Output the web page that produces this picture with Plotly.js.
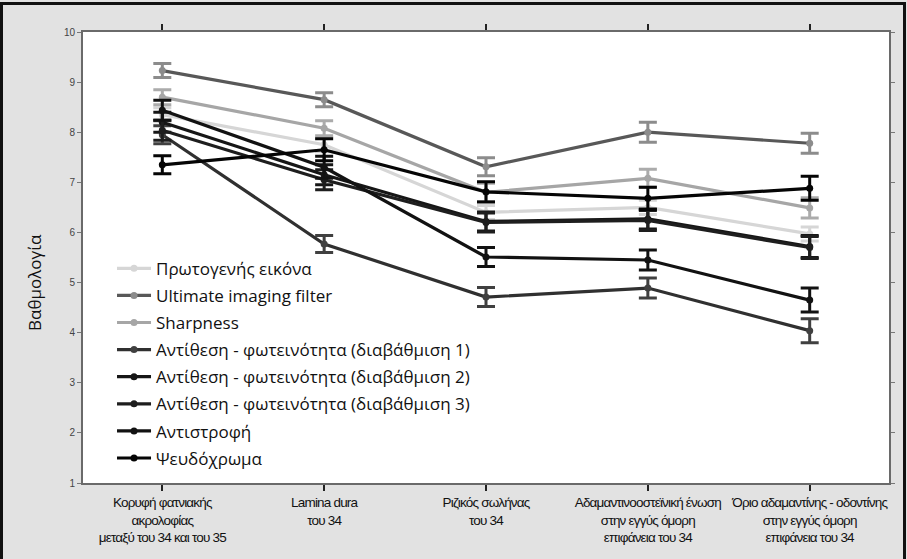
<!DOCTYPE html>
<html>
<head>
<meta charset="utf-8">
<script src="https://cdn.plot.ly/plotly-3.0.1.min.js"></script>
<style>
  html, body { margin: 0; padding: 0; background: #e2e2e2; }
  #wrap { position: relative; width: 907px; height: 559px; }
  #chart { width: 907px; height: 559px; }
  #frame {
    position: absolute; left: 0; top: 2px; width: 906px; height: 560px;
    box-sizing: border-box; border: 3px solid #111; border-bottom: none;
    pointer-events: none;
  }
  /* tighter tracking for the site labels under the x axis */
  #chart .xtick text { letter-spacing: -0.8px; }
</style>
</head>
<body>
<div id="wrap">
  <div id="chart"></div>
  <div id="frame"></div>
</div>
<script>
// Evaluation sites (x axis)
const categories = [
  "Κορυφή φατνιακής<br>ακρολοφίας<br>μεταξύ του 34 και του 35",
  "Lamina dura<br>του 34",
  "Ριζικός σωλήνας<br>του 34",
  "Αδαμαντινοοστεϊνική ένωση<br>στην εγγύς όμορη<br>επιφάνεια του 34",
  "Όριο αδαμαντίνης - οδοντίνης<br>στην εγγύς όμορη<br>επιφάνεια του 34"
];

// Series names (legend order)
const seriesNames = [
  "Πρωτογενής εικόνα",
  "Ultimate imaging filter",
  "Sharpness",
  "Αντίθεση - φωτεινότητα (διαβάθμιση 1)",
  "Αντίθεση - φωτεινότητα (διαβάθμιση 2)",
  "Αντίθεση - φωτεινότητα (διαβάθμιση 3)",
  "Αντιστροφή",
  "Ψευδόχρωμα"
];

// Mean scores per site
const primaryImage  = [8.35, 7.75, 6.40, 6.50, 5.97];
const ultimateFilt  = [9.23, 8.65, 7.31, 8.00, 7.78];
const sharpness     = [8.70, 8.08, 6.80, 7.08, 6.49];
const contrast1     = [7.95, 5.77, 4.71, 4.89, 4.04];
const contrast2     = [8.20, 7.15, 6.22, 6.27, 5.72];
const contrast3     = [8.04, 7.05, 6.20, 6.24, 5.70];
const inversion     = [8.44, 7.30, 5.51, 5.45, 4.65];
const pseudocolor   = [7.35, 7.65, 6.81, 6.68, 6.88];

// Error bar half-widths per site
const errPrimary    = [0.14, 0.14, 0.14, 0.14, 0.14];
const errUltimate   = [0.14, 0.14, 0.18, 0.20, 0.20];
const errSharpness  = [0.15, 0.15, 0.18, 0.18, 0.20];
const errContrast1  = [0.18, 0.17, 0.19, 0.20, 0.24];
const errContrast2  = [0.20, 0.20, 0.19, 0.20, 0.22];
const errContrast3  = [0.20, 0.20, 0.19, 0.20, 0.22];
const errInversion  = [0.20, 0.22, 0.19, 0.20, 0.24];
const errPseudo     = [0.18, 0.22, 0.20, 0.22, 0.24];

const allValues = [primaryImage, ultimateFilt, sharpness, contrast1, contrast2, contrast3, inversion, pseudocolor];
const allErrors = [errPrimary, errUltimate, errSharpness, errContrast1, errContrast2, errContrast3, errInversion, errPseudo];

// Grey-scale styling per series: [line, marker, error bar]
const styles = [
  ["#d6d6d6", "#d6d6d6", "#d6d6d6"],
  ["#585858", "#8c8c8c", "#8c8c8c"],
  ["#a6a6a6", "#a6a6a6", "#ababab"],
  ["#303030", "#404040", "#404040"],
  ["#161616", "#161616", "#161616"],
  ["#1e1e1e", "#1e1e1e", "#1e1e1e"],
  ["#121212", "#121212", "#121212"],
  ["#050505", "#050505", "#050505"]
];

const xIdx = categories.map((_, i) => i);

const traces = seriesNames.map((name, k) => ({
  type: "scatter",
  mode: "lines+markers",
  name: name,
  legendgroup: "g" + k,
  x: xIdx,
  y: allValues[k],
  line: { color: styles[k][0], width: 3.2 },
  marker: { color: styles[k][1], size: 7, symbol: "circle" },
  error_y: {
    type: "data", array: allErrors[k], visible: true,
    color: styles[k][2], thickness: 3, width: 9
  }
}));

const fontFamily = "'Open Sans', 'Noto Sans', 'DejaVu Sans', sans-serif";
const narrowFamily = "'Liberation Sans', Arial, sans-serif";

const layout = {
  width: 907,
  height: 559,
  margin: { l: 83, r: 18, t: 32, b: 76 },
  paper_bgcolor: "#e2e2e2",
  plot_bgcolor: "#ffffff",
  showlegend: true,
  legend: {
    x: 0.036, y: 0.515, xanchor: "left", yanchor: "top",
    bgcolor: "rgba(0,0,0,0)",
    font: { family: fontFamily, size: 17, color: "#111" },
    tracegroupgap: 2,
    itemwidth: 34
  },
  xaxis: {
    range: [-0.49, 4.49],
    tickmode: "array",
    tickvals: xIdx,
    ticktext: categories,
    tickangle: 0,
    ticks: "outside",
    ticklen: 6,
    tickwidth: 2,
    tickcolor: "#222",
    ticklabeloverflow: "allow",
    tickfont: { family: narrowFamily, size: 13.5, color: "#111" },
    showgrid: false,
    zeroline: false,
    showline: true,
    linecolor: "#6a6a6a",
    linewidth: 2,
    mirror: "ticks"
  },
  yaxis: {
    range: [1, 10],
    tickmode: "linear",
    tick0: 0,
    dtick: 1,
    ticks: "outside",
    ticklen: 4,
    tickwidth: 1,
    tickcolor: "#777",
    tickfont: { family: "'Liberation Sans', Arial, sans-serif", size: 10, color: "#444" },
    showgrid: false,
    zeroline: false,
    showline: true,
    linecolor: "#6a6a6a",
    linewidth: 2,
    mirror: "ticks"
  },
  annotations: [{
    text: "Βαθμολογία",
    xref: "paper", yref: "paper",
    x: -0.06, y: 0.445,
    xanchor: "center", yanchor: "middle",
    textangle: -90,
    showarrow: false,
    font: { family: fontFamily, size: 17, color: "#111" }
  }]
};

Plotly.newPlot("chart", traces, layout, { displayModeBar: false, staticPlot: true });
</script>
</body>
</html>
